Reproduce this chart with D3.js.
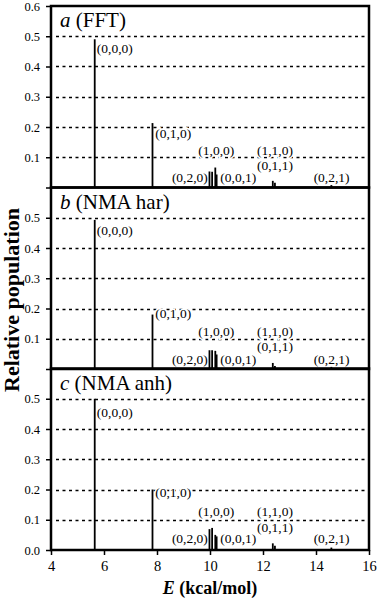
<!DOCTYPE html>
<meta charset="utf-8">
<html>
  <head>
    <style>
      body { margin: 0; background: #fff; }
      text { font-family: "Liberation Serif", "Times New Roman", serif; fill: #000; }
      .grid { stroke: #000; stroke-width: 1.5px; stroke-dasharray: 3,3.5; }
      .frame { fill: none; stroke: #000; stroke-width: 2.5px; }
      .bar { stroke: #000; stroke-width: 1.8px; }
      .lbl { font-size: 13.5px; stroke: #fff; stroke-width: 3px; paint-order: stroke; }
    </style>
    <script src="https://cdn.jsdelivr.net/npm/d3@7"></script>
  </head>
  <body>
    <div id="chart"></div>
    <script>
      // energies of the vibrational states (kcal/mol)
      var energies = [5.65, 7.83, 9.98, 10.08, 10.2, 10.25, 12.37, 12.45, 14.58];
      // relative populations, one array per panel
      var popFFT = [0.49, 0.213, 0.053, 0.052, 0.066, 0.043, 0.022, 0.016, 0.008];
      var popHar = [0.493, 0.18, 0.062, 0.062, 0.06, 0.048, 0.02, 0.01, 0.007];
      var popAnh = [0.5, 0.2, 0.069, 0.073, 0.05, 0.045, 0.022, 0.014, 0.008];

      var panelLetters = ["a", "b", "c"];
      var panelMethods = ["(FFT)", "(NMA har)", "(NMA anh)"];

      // state labels and where they sit (E, population)
      var stateLabels = ["(0,0,0)", "(0,1,0)", "(0,2,0)", "(1,0,0)", "(0,0,1)", "(1,1,0)", "(0,1,1)", "(0,2,1)"];
      var labelAnchor = ["start", "start", "end", "middle", "start", "middle", "middle", "middle"];
      var labelE = [5.73, 7.93, 9.92, 10.24, 10.39, 12.45, 12.45, 14.59];
      var labelFFT = [0.443, 0.163, 0.018, 0.107, 0.018, 0.107, 0.057, 0.018];
      var labelHar = [0.443, 0.167, 0.018, 0.11, 0.018, 0.11, 0.06, 0.018];
      var labelAnh = [0.44, 0.174, 0.022, 0.113, 0.022, 0.113, 0.058, 0.022];

      var xTicks = [4, 6, 8, 10, 12, 14, 16];
      var yTicks = [0, 0.1, 0.2, 0.3, 0.4, 0.5, 0.6];
      var gridTicks = [0.1, 0.2, 0.3, 0.4, 0.5];

      var pops = [popFFT, popHar, popAnh];
      var labelPops = [labelFFT, labelHar, labelAnh];

      var W = 378, H = 600;
      var left = 51, right = 369,
          tops = [6, 187.5, 368.5], ph = 181.5;
      var serif = "'Liberation Serif', 'Times New Roman', serif";

      var svg = d3.select("#chart").append("svg")
          .attr("width", W).attr("height", H);

      var x = d3.scaleLinear().domain([4, 16]).range([left, right]);

      pops.forEach(function(pop, p) {
        var top = tops[p];
        var y = d3.scaleLinear().domain([0, 0.6]).range([top + ph, top]);
        var g = svg.append("g");

        // dotted grid
        g.selectAll(".grid").data(gridTicks).enter().append("line")
          .attr("class", "grid")
          .attr("x1", left + 5).attr("x2", right)
          .attr("y1", function(d) { return Math.round(y(d)) + 0.5; })
          .attr("y2", function(d) { return Math.round(y(d)) + 0.5; });

        // state labels (white halo hides the dots behind them)
        g.selectAll(".lbl").data(stateLabels).enter().append("text")
          .attr("class", "lbl")
          .attr("x", function(d, i) { return x(labelE[i]); })
          .attr("y", function(d, i) { return y(labelPops[p][i]); })
          .attr("text-anchor", function(d, i) { return labelAnchor[i]; })
          .text(function(d) { return d; });

        // sticks
        g.selectAll(".bar").data(pop).enter().append("line")
          .attr("class", "bar")
          .attr("x1", function(d, i) { return x(energies[i]); })
          .attr("x2", function(d, i) { return x(energies[i]); })
          .attr("y1", y(0))
          .attr("y2", function(d) { return y(d); });

        // y axis
        var ticks = yTicks.filter(function(t) { return t < 0.55 || p == 0; });
        var yAxis = d3.axisLeft(y).tickValues(ticks).tickSize(5).tickPadding(6)
          .tickFormat(function(d) {
            if (d == 0) return p == 2 ? "0.0" : "";
            return d3.format(".1f")(d);
          });
        var ya = g.append("g").attr("transform", "translate(" + left + ",0)").call(yAxis);
        ya.attr("font-family", serif).attr("font-size", 12.5);
        ya.select(".domain").remove();
        ya.selectAll("line").attr("stroke", "#000").attr("stroke-width", 1.5);

        // frame
        g.append("rect").attr("class", "frame")
          .attr("x", left).attr("y", top)
          .attr("width", right - left).attr("height", ph);

        // panel title
        var t = g.append("text").attr("x", left + 9).attr("y", top + 21)
          .style("font-size", "21px");
        t.append("tspan").style("font-style", "italic").text(panelLetters[p]);
        t.append("tspan").text("\u00a0" + panelMethods[p]);

        if (p == 2) {
          var xAxis = d3.axisBottom(x).tickValues(xTicks).tickSize(5).tickPadding(6)
            .tickFormat(d3.format("d"));
          var xa = g.append("g").attr("transform", "translate(0," + (top + ph) + ")").call(xAxis);
          xa.attr("font-family", serif).attr("font-size", 14.5);
          xa.select(".domain").remove();
          xa.selectAll("line").attr("stroke", "#000").attr("stroke-width", 1.5);
        }
      });

      // axis titles
      var xt = svg.append("text").attr("x", (left + right) / 2).attr("y", 594)
        .attr("text-anchor", "middle")
        .style("font-size", "18px").style("font-weight", "bold");
      xt.append("tspan").style("font-style", "italic").text("E");
      xt.append("tspan").text("\u00a0(kcal/mol)");

      svg.append("text")
        .attr("transform", "translate(19,300) rotate(-90)")
        .attr("text-anchor", "middle")
        .style("font-size", "22px").style("font-weight", "bold")
        .text("Relative population");
    </script>
  </body>
</html>
